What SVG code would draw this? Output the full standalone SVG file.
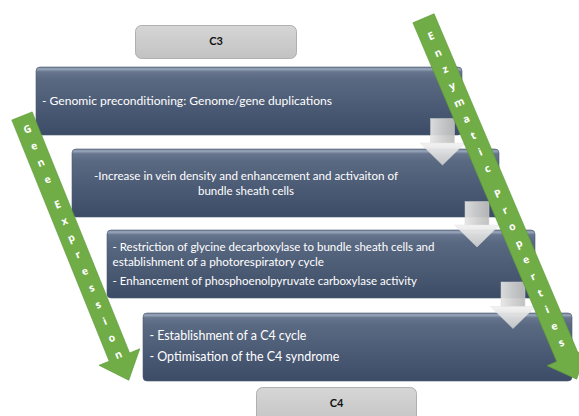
<svg xmlns="http://www.w3.org/2000/svg" width="579" height="416" viewBox="0 0 579 416">
<defs>
<linearGradient id="gBox" x1="0" y1="0" x2="0" y2="1">
<stop offset="0" stop-color="#6d7c95"/>
<stop offset="0.03" stop-color="#9ba8bc"/>
<stop offset="0.07" stop-color="#67768e"/>
<stop offset="0.18" stop-color="#5a6982"/>
<stop offset="1" stop-color="#3d4c66"/>
</linearGradient>
<linearGradient id="gGray" x1="0" y1="0" x2="0" y2="1">
<stop offset="0" stop-color="#d6d6d6"/>
<stop offset="1" stop-color="#c2c2c2"/>
</linearGradient>
<linearGradient id="gDown" x1="0" y1="0" x2="1" y2="0">
<stop offset="0" stop-color="#e6e6e6"/>
<stop offset="0.5" stop-color="#cfcfcf"/>
<stop offset="1" stop-color="#bdbdbd"/>
</linearGradient>
<linearGradient id="gHead" x1="0" y1="0" x2="0" y2="1">
<stop offset="0" stop-color="#f2f2f2"/>
<stop offset="1" stop-color="#cccccc"/>
</linearGradient>
</defs>
<style>
.box{fill:url(#gBox);stroke:#4a5870;stroke-width:0.6}
.gray{fill:url(#gGray);stroke:#b0b0b0;stroke-width:1}
.t{font-family:Lato,"Open Sans","Liberation Sans",sans-serif;fill:#ffffff}
.lbl{font-family:Lato,"Open Sans","Liberation Sans",sans-serif;font-weight:bold;font-size:11px;fill:#111111;text-anchor:middle}
.green{fill:#70ad47;stroke:#5f9a3b;stroke-width:0.6}
.gl{font-family:"Open Sans",Lato,"Liberation Sans",sans-serif;font-weight:bold;font-size:10.5px;fill:#ffffff;text-anchor:middle}
.down{opacity:0.93}
.shaft{fill:url(#gDown);stroke:#d8d8d8;stroke-width:0.5}
.head{fill:url(#gHead);stroke:#e0e0e0;stroke-width:0.5}
</style>

<g id="c3">
<rect class="gray" x="135.5" y="25.5" width="161" height="33" rx="6"/>
<text class="lbl" x="216" y="45">C3</text>
</g>

<g id="box1">
<rect class="box" x="36" y="67" width="426" height="68" rx="4"/>
<text class="t" x="42" y="105" font-size="11.5" textLength="290" lengthAdjust="spacingAndGlyphs">- Genomic preconditioning: Genome/gene duplications</text>
</g>

<g id="box2">
<rect class="box" x="72" y="149" width="427" height="68" rx="4"/>
<text class="t" x="246" y="179.5" font-size="10.5" text-anchor="middle" textLength="304" lengthAdjust="spacingAndGlyphs">-Increase in vein density and enhancement and activaiton of</text>
<text class="t" x="246" y="194.5" font-size="10.5" text-anchor="middle" textLength="96" lengthAdjust="spacingAndGlyphs">bundle sheath cells</text>
</g>

<g id="box3">
<rect class="box" x="107" y="230" width="428" height="68" rx="4"/>
<text class="t" x="112.5" y="251" font-size="10.5" textLength="322" lengthAdjust="spacingAndGlyphs">- Restriction of glycine decarboxylase to bundle sheath cells and</text>
<text class="t" x="112.5" y="266" font-size="10.5" textLength="211.5" lengthAdjust="spacingAndGlyphs">establishment of a photorespiratory cycle</text>
<text class="t" x="112.5" y="285" font-size="10.5" textLength="304.5" lengthAdjust="spacingAndGlyphs">- Enhancement of phosphoenolpyruvate carboxylase activity</text>
</g>

<g id="box4">
<rect class="box" x="143" y="313" width="429" height="68" rx="4"/>
<text class="t" x="149.4" y="339.5" font-size="12.5" textLength="157" lengthAdjust="spacingAndGlyphs">- Establishment of a C4 cycle</text>
<text class="t" x="149.4" y="361" font-size="12.5" textLength="190" lengthAdjust="spacingAndGlyphs">- Optimisation of the C4 syndrome</text>
</g>

<g id="c4">
<rect class="gray" x="256.5" y="387.5" width="160" height="40" rx="6"/>
<text class="lbl" x="336.5" y="407">C4</text>
</g>

<g id="connectors">
<g class="down">
<rect class="shaft" x="430.5" y="118.5" width="24" height="25"/>
<path class="head" d="M420,143 L465,143 L442.5,165 Z"/>
</g>
<g class="down">
<rect class="shaft" x="465" y="201.5" width="24" height="24"/>
<path class="head" d="M454.5,225 L499.5,225 L477,247 Z"/>
</g>
<g class="down">
<rect class="shaft" x="501" y="282" width="24" height="25"/>
<path class="head" d="M490.5,306.5 L535.5,306.5 L513,328.5 Z"/>
</g>
</g>

<g id="gene-expression" transform="translate(22,116) rotate(-22)">
<path class="green" d="M-11,0 L11,0 L11,260 L22,260 L0,285 L-22,260 L-11,260 Z"/>
<text class="gl" x="0" y="18">G</text>
<text class="gl" x="0" y="36">e</text>
<text class="gl" x="0" y="54">n</text>
<text class="gl" x="0" y="72">e</text>
<text class="gl" x="0" y="99">E</text>
<text class="gl" x="0" y="117">x</text>
<text class="gl" x="0" y="135">p</text>
<text class="gl" x="0" y="153">r</text>
<text class="gl" x="0" y="171">e</text>
<text class="gl" x="0" y="189">s</text>
<text class="gl" x="0" y="207">s</text>
<text class="gl" x="0" y="225">i</text>
<text class="gl" x="0" y="243">o</text>
<text class="gl" x="0" y="261">n</text>
</g>

<g id="enzymatic-properties" transform="translate(423.5,18.3) rotate(-23)">
<path class="green" d="M-11.5,0 L11.5,0 L11.5,368 L22,368 L0,392 L-22,368 L-11.5,368 Z"/>
<text class="gl" x="0" y="23">E</text>
<text class="gl" x="0" y="41">n</text>
<text class="gl" x="0" y="59">z</text>
<text class="gl" x="0" y="77">y</text>
<text class="gl" x="0" y="95">m</text>
<text class="gl" x="0" y="113">a</text>
<text class="gl" x="0" y="131">t</text>
<text class="gl" x="0" y="149">i</text>
<text class="gl" x="0" y="167">c</text>
<text class="gl" x="0" y="194">P</text>
<text class="gl" x="0" y="212">r</text>
<text class="gl" x="0" y="230">o</text>
<text class="gl" x="0" y="248">p</text>
<text class="gl" x="0" y="266">e</text>
<text class="gl" x="0" y="284">r</text>
<text class="gl" x="0" y="302">t</text>
<text class="gl" x="0" y="320">i</text>
<text class="gl" x="0" y="338">e</text>
<text class="gl" x="0" y="356">s</text>
</g>
</svg>
